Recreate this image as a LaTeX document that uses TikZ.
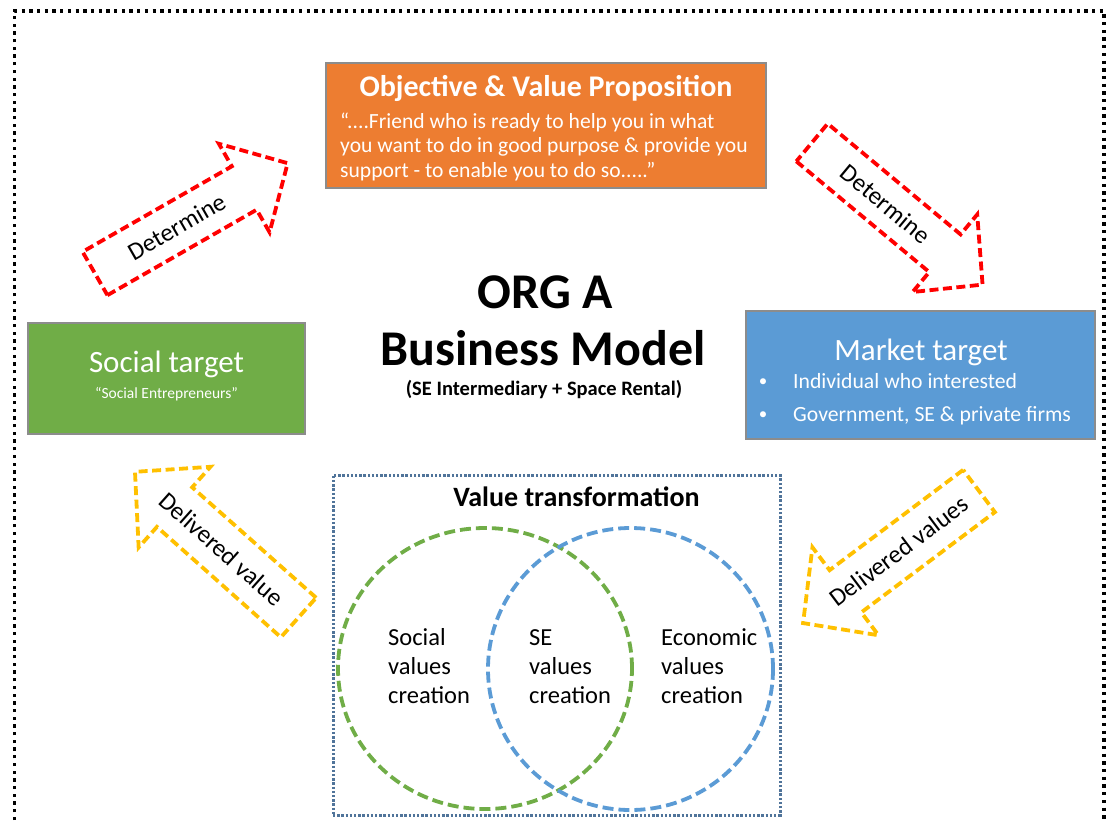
\documentclass[tikz,border=0pt]{standalone}
\usepackage{fontspec}
\setmainfont{Carlito}
\usetikzlibrary{shapes.geometric}
\definecolor{orgorange}{HTML}{ED7D31}
\definecolor{orggreen}{HTML}{70AD47}
\definecolor{orgblue}{HTML}{5B9BD5}
\definecolor{orgyellow}{HTML}{FFC000}
\definecolor{orgred}{HTML}{FF0000}
\definecolor{orgslate}{HTML}{50749A}
\definecolor{boxedge}{HTML}{8C8C8C}
\newcommand{\fsz}[2]{\fontsize{#1}{#2}\selectfont}
\tikzset{
  colorbox/.style={draw=boxedge, line width=1.2pt, inner sep=0pt},
  whitetext/.style={text=white, inner sep=0pt},
  arrowline/.style={line width=3.8pt, dash pattern=on 9pt off 4.5pt, line join=miter},
  arrowtext/.style={font=\fsz{25}{30}, inner sep=0pt},
  venncircle/.style={ellipse, line width=3.8pt, dash pattern=on 11pt off 5pt, inner sep=0pt},
  venntext/.style={font=\fsz{24.5}{29}, align=left, anchor=base west, inner sep=0pt},
}
\begin{document}
\begin{tikzpicture}[x=1pt,y=-1pt]
\useasboundingbox (0,0) rectangle (1108,820);
% outer dotted frame
\draw[black, line width=3.3pt, dash pattern=on 3.3pt off 4.4pt] (14.5,820) -- (14.5,11) -- (1104,11) -- (1104,820);

% objective box
\node[colorbox, fill=orgorange, minimum width=440pt, minimum height=125pt] (objective) at (546,125.5) {};
\node[whitetext, anchor=base, font=\bfseries\fsz{30}{36}] (objtitle) at (546,96) {Objective \& Value Proposition};
\node[whitetext, anchor=base west, align=left, font=\fsz{21.6}{24.5}] (objtext) at (340,177)
  {“....Friend who is ready to help you in what\\you want to do in good purpose \& provide you\\support - to enable you to do so.....”};

% social target
\node[colorbox, fill=orggreen, minimum width=277pt, minimum height=111pt] (social) at (166.5,378.5) {};
\node[whitetext, anchor=base, font=\fsz{31}{37}] (socialtitle) at (166.5,372) {Social target};
\node[whitetext, anchor=base, font=\fsz{15.5}{19}] (socialsub) at (166.5,398) {“Social Entrepreneurs”};

% market target
\node[colorbox, fill=orgblue, minimum width=349pt, minimum height=128pt] (market) at (920.5,375) {};
\node[whitetext, anchor=base, font=\fsz{31}{37}] (markettitle) at (921,360) {Market target};
\node[whitetext, anchor=base, font=\fsz{17}{20}] (bulletA) at (763,386) {•};
\node[whitetext, anchor=base west, font=\fsz{21.7}{25}] (marketA) at (793,388) {Individual who interested};
\node[whitetext, anchor=base, font=\fsz{17}{20}] (bulletB) at (763,419.5) {•};
\node[whitetext, anchor=base west, font=\fsz{21.7}{25}] (marketB) at (793,421.5) {Government, SE \& private firms};

% centre title
\node[anchor=base, inner sep=0pt, font=\bfseries\fsz{50}{60}] (orga) at (545,308) {ORG A};
\node[anchor=base, inner sep=0pt, font=\bfseries\fsz{50}{60}] (bm) at (543,365) {Business Model};
\node[anchor=base, inner sep=0pt, font=\bfseries\fsz{20.5}{24}] (bmsub) at (544,395) {(SE Intermediary + Space Rental)};

% value transformation
\node[draw=orgslate, line width=3pt, dash pattern=on 2.4pt off 1.8pt, minimum width=447pt, minimum height=340pt, inner sep=0pt] (valuebox) at (556.5,645) {};
\node[anchor=base, inner sep=0pt, font=\bfseries\fsz{28}{33}] (valuetitle) at (576.5,506.5) {Value transformation};
\node[venncircle, draw=orggreen, minimum width=294pt, minimum height=281pt] (socialcircle) at (485,668.5) {};
\node[venncircle, draw=orgblue, minimum width=285pt, minimum height=282pt] (econcircle) at (630.5,669) {};
\node[venntext] (socialvalues) at (388,703) {Social\\values\\creation};
\node[venntext] (sevalues) at (529,703) {SE\\values\\creation};
\node[venntext] (econvalues) at (661,703) {Economic\\values\\creation};

% block arrows
\begin{scope}[shift={(95,273.5)}, rotate=29.8]
  \draw[arrowline, orgred] (0,25) -- (172,25) -- (172,51) -- (222,0) -- (172,-51) -- (172,-25) -- (0,-25) -- cycle;
  \node[arrowtext, rotate=29.8] (detA) at (94,0) {Determine};
\end{scope}
\begin{scope}[shift={(812,142.5)}, rotate=-39.8]
  \draw[arrowline, orgred] (0,24.5) -- (173,24.5) -- (173,50.5) -- (222,0) -- (173,-50.5) -- (173,-24.5) -- (0,-24.5) -- cycle;
  \node[arrowtext, rotate=-39.8] (detB) at (96,0) {Determine};
\end{scope}
\begin{scope}[shift={(298.5,617.5)}, rotate=138.3]
  \draw[arrowline, orgyellow] (0,26.5) -- (166,26.5) -- (166,54) -- (219,0) -- (166,-54) -- (166,-26.5) -- (0,-26.5) -- cycle;
  \node[arrowtext, rotate=-41.7] (delA) at (103,0) {Delivered value};
\end{scope}
\begin{scope}[shift={(979,491)}, rotate=216.9]
  \draw[arrowline, orgyellow] (0,26.4) -- (167,26.4) -- (167,55) -- (220,0) -- (167,-55) -- (167,-26.4) -- (0,-26.4) -- cycle;
  \node[arrowtext, rotate=36.9] (delB) at (100,0) {Delivered values};
\end{scope}
\end{tikzpicture}
\end{document}
